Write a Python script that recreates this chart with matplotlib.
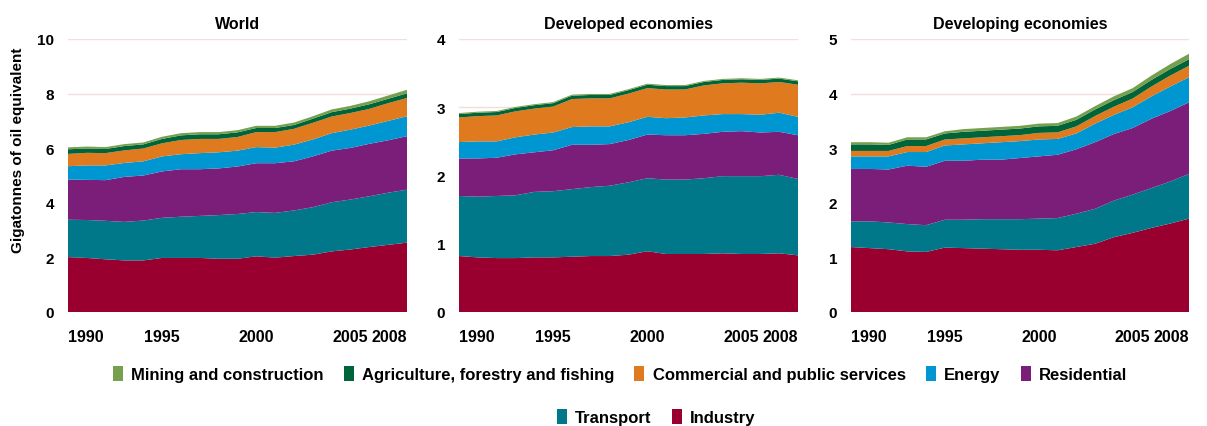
import matplotlib
matplotlib.use("Agg")
import matplotlib.pyplot as plt
from matplotlib.patches import Patch
from matplotlib import font_manager

plt.rcParams["font.family"] = ["Liberation Sans", "DejaVu Sans"]

YEARS = list(range(1990, 2009))

SECTORS = [
    "Industry",
    "Transport",
    "Residential",
    "Energy",
    "Commercial and public services",
    "Agriculture, forestry and fishing",
    "Mining and construction",
]
COLORS = ["#990030", "#00788A", "#7A1E7A", "#0096D2", "#E07A1E", "#00643A", "#76A04E"]

# Gigatonnes of oil equivalent, per sector (stacked bottom to top)
world_industry = [2.01, 1.98, 1.93, 1.89, 1.89, 1.98, 1.98, 1.98, 1.95, 1.95,
                  2.04, 1.99, 2.05, 2.10, 2.22, 2.29, 2.38, 2.46, 2.54]
world_transport = [1.37, 1.39, 1.41, 1.41, 1.46, 1.47, 1.51, 1.54, 1.60, 1.64,
                   1.62, 1.64, 1.67, 1.74, 1.80, 1.83, 1.86, 1.91, 1.94]
world_residential = [1.47, 1.47, 1.49, 1.65, 1.65, 1.70, 1.74, 1.71, 1.71, 1.74,
                     1.79, 1.82, 1.80, 1.86, 1.89, 1.89, 1.92, 1.92, 1.96]
world_energy = [0.49, 0.53, 0.54, 0.51, 0.52, 0.55, 0.55, 0.59, 0.59, 0.58,
                0.59, 0.57, 0.61, 0.62, 0.64, 0.67, 0.67, 0.71, 0.73]
world_commercial = [0.45, 0.46, 0.45, 0.46, 0.47, 0.48, 0.52, 0.52, 0.49, 0.50,
                    0.55, 0.57, 0.58, 0.61, 0.61, 0.61, 0.61, 0.65, 0.67]
world_agriculture = [0.17, 0.16, 0.15, 0.16, 0.15, 0.16, 0.17, 0.17, 0.17, 0.17,
                     0.15, 0.15, 0.14, 0.15, 0.16, 0.16, 0.17, 0.16, 0.17]
world_mining = [0.07, 0.07, 0.07, 0.07, 0.07, 0.08, 0.08, 0.08, 0.08, 0.08,
                0.08, 0.08, 0.09, 0.09, 0.10, 0.10, 0.11, 0.12, 0.13]

dev_industry = [0.82, 0.80, 0.79, 0.79, 0.80, 0.80, 0.81, 0.82, 0.82, 0.84,
                0.89, 0.85, 0.85, 0.85, 0.86, 0.85, 0.85, 0.86, 0.83]
dev_transport = [0.88, 0.89, 0.91, 0.92, 0.96, 0.97, 0.99, 1.01, 1.03, 1.06,
                 1.07, 1.09, 1.09, 1.11, 1.13, 1.14, 1.14, 1.15, 1.12]
dev_residential = [0.55, 0.56, 0.56, 0.60, 0.58, 0.60, 0.65, 0.62, 0.61, 0.62,
                   0.64, 0.65, 0.65, 0.65, 0.65, 0.66, 0.64, 0.63, 0.64]
dev_energy = [0.24, 0.25, 0.24, 0.25, 0.26, 0.26, 0.26, 0.27, 0.26, 0.26,
              0.26, 0.25, 0.26, 0.27, 0.26, 0.25, 0.26, 0.28, 0.27]
dev_commercial = [0.36, 0.37, 0.38, 0.38, 0.38, 0.38, 0.41, 0.41, 0.41, 0.42,
                  0.42, 0.42, 0.41, 0.44, 0.45, 0.46, 0.46, 0.45, 0.47]
dev_agriculture = [0.05, 0.05, 0.05, 0.05, 0.05, 0.05, 0.05, 0.05, 0.05, 0.05,
                   0.05, 0.05, 0.05, 0.05, 0.05, 0.05, 0.05, 0.05, 0.05]
dev_mining = [0.015, 0.015, 0.015, 0.015, 0.015, 0.015, 0.015, 0.015, 0.015, 0.015,
              0.015, 0.015, 0.015, 0.015, 0.015, 0.015, 0.015, 0.015, 0.015]

dvg_industry = [1.19, 1.17, 1.15, 1.11, 1.10, 1.18, 1.17, 1.16, 1.15, 1.14,
                1.14, 1.13, 1.19, 1.25, 1.37, 1.45, 1.54, 1.62, 1.71]
dvg_transport = [0.47, 0.49, 0.49, 0.50, 0.49, 0.51, 0.52, 0.54, 0.55, 0.56,
                 0.57, 0.59, 0.61, 0.64, 0.67, 0.70, 0.73, 0.77, 0.82]
dvg_residential = [0.96, 0.96, 0.97, 1.07, 1.07, 1.08, 1.08, 1.09, 1.09, 1.12,
                   1.14, 1.16, 1.18, 1.22, 1.22, 1.22, 1.27, 1.29, 1.31]
dvg_energy = [0.23, 0.23, 0.24, 0.25, 0.27, 0.28, 0.30, 0.30, 0.32, 0.31,
              0.31, 0.29, 0.29, 0.34, 0.35, 0.38, 0.41, 0.45, 0.46]
dvg_commercial = [0.10, 0.10, 0.10, 0.11, 0.11, 0.11, 0.11, 0.11, 0.11, 0.11,
                  0.12, 0.12, 0.13, 0.14, 0.15, 0.16, 0.18, 0.20, 0.21]
dvg_agriculture = [0.12, 0.12, 0.11, 0.12, 0.12, 0.11, 0.12, 0.12, 0.12, 0.12,
                   0.12, 0.12, 0.12, 0.12, 0.12, 0.12, 0.12, 0.12, 0.12]
dvg_mining = [0.04, 0.04, 0.04, 0.04, 0.04, 0.04, 0.05, 0.05, 0.05, 0.05,
              0.05, 0.05, 0.06, 0.06, 0.07, 0.07, 0.08, 0.09, 0.10]

PANELS = [
    ("World", 10, [0, 2, 4, 6, 8, 10],
     [world_industry, world_transport, world_residential, world_energy,
      world_commercial, world_agriculture, world_mining]),
    ("Developed economies", 4, [0, 1, 2, 3, 4],
     [dev_industry, dev_transport, dev_residential, dev_energy,
      dev_commercial, dev_agriculture, dev_mining]),
    ("Developing economies", 5, [0, 1, 2, 3, 4, 5],
     [dvg_industry, dvg_transport, dvg_residential, dvg_energy,
      dvg_commercial, dvg_agriculture, dvg_mining]),
]
XTICKS = [1990, 1995, 2000, 2005, 2008]

W, H = 1207, 427
fig = plt.figure(figsize=(W / 100, H / 100), dpi=100)

# axes boxes in pixels: left, right
boxes = [(68, 407), (459, 798), (851, 1189)]
top_px, bottom_px = 40, 313

for (title, ymax, yticks, layers), (x0, x1) in zip(PANELS, boxes):
    ax = fig.add_axes([x0 / W, 1 - bottom_px / H, (x1 - x0) / W, (bottom_px - top_px) / H])
    ax.stackplot(YEARS, *layers, colors=COLORS, linewidth=0, zorder=2)
    ax.set_xlim(1990, 2008)
    ax.set_ylim(0, ymax)
    ax.set_yticks(yticks)
    ax.set_yticklabels([str(t) for t in yticks], fontsize=11, fontweight="bold")
    ax.set_xticks(XTICKS)
    ax.set_xticklabels([str(t) for t in XTICKS], fontsize=11.5, fontweight="bold")
    xl = ax.get_xticklabels()
    xl[0].set_ha("left")
    xl[-1].set_ha("right")
    ax.tick_params(length=0, pad=12, axis="x")
    ax.tick_params(length=0, pad=10, axis="y")
    for s in ax.spines.values():
        s.set_visible(False)
    ax.grid(axis="y", color="#f3dede", linewidth=1.0, zorder=0)
    ax.set_axisbelow(True)
    ax.set_title(title, fontsize=11.5, fontweight="bold", pad=8)

fig.text(18 / W, 1 - 150 / H, "Gigatonnes of oil equivalent", rotation=90,
         ha="center", va="center", fontsize=11, fontweight="bold")

legend_font = {"family": ["Liberation Sans Narrow", "Liberation Sans"],
               "weight": "bold", "size": 12}
order_row1 = [6, 5, 4, 3, 2]
order_row2 = [1, 0]
for order, xc, yc in [(order_row1, 620, 375), (order_row2, 656, 418)]:
    handles = [Patch(facecolor=COLORS[i], edgecolor="none") for i in order]
    labels = [SECTORS[i] for i in order]
    fig.legend(handles, labels, loc="center", bbox_to_anchor=(xc / W, 1 - yc / H),
               ncol=len(order), frameon=False, prop=legend_font,
               handlelength=0.6, handleheight=1.0, handletextpad=0.5,
               columnspacing=1.2)

fig.savefig("out.png", dpi=100)
